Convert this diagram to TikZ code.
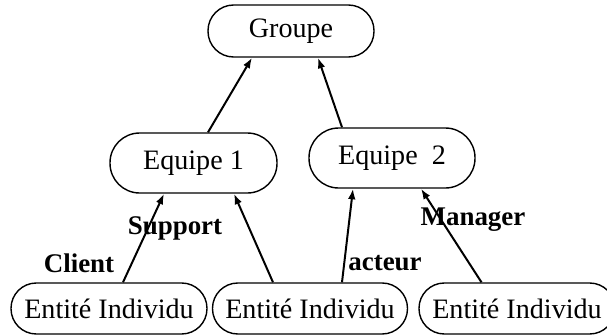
\documentclass[tikz,border=0pt]{standalone}
\usepackage{fontspec}
\setmainfont{Liberation Serif}
\usetikzlibrary{arrows.meta}
\tikzset{
	px/.style={x=0.03cm,y=-0.03cm},
	pill/.style={draw,line width=1.2pt,rounded corners=#1,inner sep=0pt,font=\fontsize{24}{28}\selectfont},
	arr/.style={line width=1.7pt,-{Latex[length=9pt,width=6.5pt]}},
	lbl/.style={font=\fontsize{23}{27}\selectfont\bfseries}
}
\begin{document}
\begin{tikzpicture}[px]
	\useasboundingbox (0,0) rectangle (607,335);
	\clip (0,0) rectangle (607,335);
	% noeuds
	\node[pill=0.77cm,minimum width=166*0.03cm,minimum height=52*0.03cm] (groupe) at (291,31) {Groupe};
	\node[pill=0.89cm,minimum width=167*0.03cm,minimum height=60*0.03cm] (equipe1) at (193.5,163) {Equipe 1};
	\node[pill=0.89cm,minimum width=166*0.03cm,minimum height=60*0.03cm] (equipe2) at (392,158) {Equipe~~2};
	\node[pill=0.76cm,minimum width=196*0.03cm,minimum height=51*0.03cm] (ent1) at (109,308.5) {Entité Individu};
	\node[pill=0.76cm,minimum width=195*0.03cm,minimum height=51*0.03cm] (ent2) at (310,308.5) {Entité Individu};
	\node[pill=0.76cm,minimum width=196*0.03cm,minimum height=51*0.03cm] (ent3) at (517,308.5) {Entité Individu};
	% liens
	\draw[arr] ([xshift=14.5*0.03cm]equipe1.north) -- ([xshift=-39*0.03cm]groupe.south);
	\draw[arr] ([xshift=-50*0.03cm]equipe2.north) -- ([xshift=27*0.03cm]groupe.south);
	\draw[arr] ([xshift=14*0.03cm]ent1.north) -- ([xshift=-29.5*0.03cm]equipe1.south);
	\draw[arr] ([xshift=-37*0.03cm]ent2.north) -- ([xshift=40.5*0.03cm]equipe1.south);
	\draw[arr] ([xshift=32*0.03cm]ent2.north) -- ([xshift=-39*0.03cm]equipe2.south);
	\draw[arr] ([xshift=-35.5*0.03cm]ent3.north) -- ([xshift=29*0.03cm]equipe2.south);
	% roles
	\node[lbl] (client) at (79,263) {Client};
	\node[lbl] (support) at (175,228) {Support};
	\node[lbl] (acteur) at (385,263) {acteur};
	\node[lbl] (manager) at (473,220) {Manager};
\end{tikzpicture}
\end{document}
